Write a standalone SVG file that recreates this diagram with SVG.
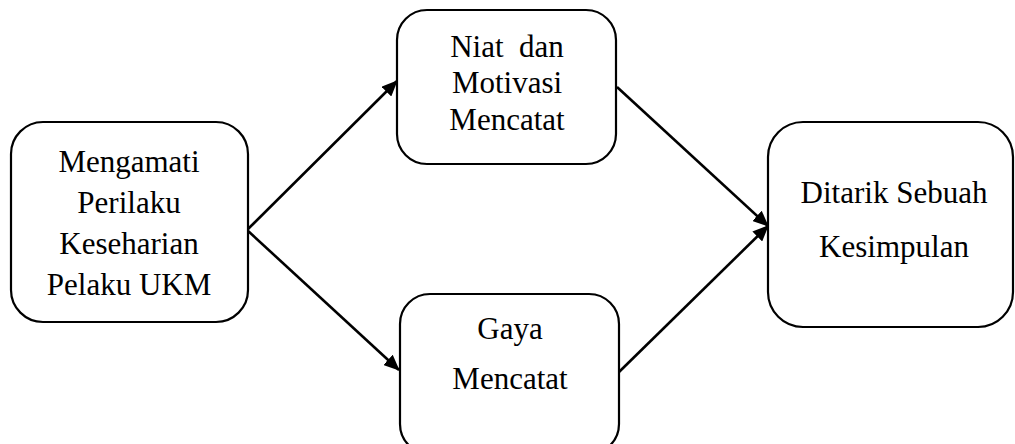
<svg xmlns="http://www.w3.org/2000/svg" width="1015" height="444" viewBox="0 0 1015 444">
<style>
.box{fill:#fff;stroke:#000;stroke-width:2.2}
.t{font-family:"Liberation Serif","Times New Roman",serif;font-size:31px;fill:#000;text-anchor:middle;white-space:pre}
.c{stroke:#000;stroke-width:2.6;fill:none;marker-end:url(#ah)}
</style>
<defs>
<marker id="ah" markerUnits="userSpaceOnUse" markerWidth="16" markerHeight="14" refX="15" refY="7" orient="auto">
<path d="M0,0 L16,7 L0,14 z" fill="#000"/>
</marker>
</defs>
<rect width="1015" height="444" fill="#fff"/>
<g id="connectors">
<line class="c" x1="247" y1="230" x2="397" y2="81"/>
<line class="c" x1="247" y1="230" x2="399" y2="370"/>
<line class="c" x1="617" y1="87" x2="768" y2="226"/>
<line class="c" x1="619" y1="372" x2="768" y2="226"/>
</g>
<g id="n1">
<rect class="box" x="11" y="122" width="237" height="200" rx="32"/>
<text class="t" x="129" y="172">Mengamati</text>
<text class="t" x="129" y="213">Perilaku</text>
<text class="t" x="129" y="254">Keseharian</text>
<text class="t" x="129" y="295">Pelaku UKM</text>
</g>
<g id="n2">
<rect class="box" x="397" y="10" width="219" height="154" rx="30"/>
<text class="t" x="507" y="57">Niat  dan</text>
<text class="t" x="507" y="93">Motivasi</text>
<text class="t" x="507" y="130">Mencatat</text>
</g>
<g id="n3">
<rect class="box" x="400" y="294" width="219" height="160" rx="30"/>
<text class="t" x="510" y="339">Gaya</text>
<text class="t" x="510" y="389">Mencatat</text>
</g>
<g id="n4">
<rect class="box" x="768" y="122" width="245" height="205" rx="35"/>
<text class="t" x="894" y="203">Ditarik Sebuah</text>
<text class="t" x="894" y="257">Kesimpulan</text>
</g>
</svg>
